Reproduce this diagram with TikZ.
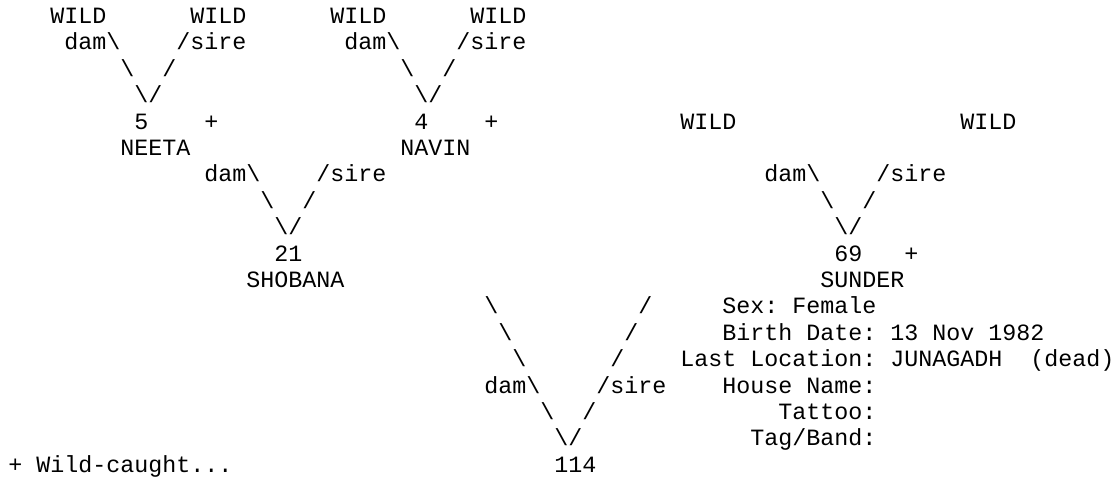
\documentclass[tikz,border=0pt]{standalone}
\usepackage{fontspec}
\newfontfamily\pedfont{Liberation Mono}
\usepackage{tikz}
\newcommand{\bsl}{\textbackslash}

\begin{document}
\begin{tikzpicture}[
    x=10.5pt, y=-19.8pt,
    txt/.style={anchor=base west, inner sep=0pt, font=\pedfont\fontsize{17.5pt}{19.8pt}\selectfont\frenchspacing}
]
\useasboundingbox (-0.571,-0.890) rectangle (79.071,17.216);

% grandparents of 21
\node[txt] (wildA) at (3,0) {WILD};
\node[txt] (wildB) at (13,0) {WILD};
\node[txt] (wildC) at (23,0) {WILD};
\node[txt] (wildD) at (33,0) {WILD};
\node[txt] (damA) at (4,1) {dam\bsl};
\node[txt] (sireA) at (12,1) {/sire};
\node[txt] (damB) at (24,1) {dam\bsl};
\node[txt] (sireB) at (32,1) {/sire};
\node[txt] (lnA1) at (8,2) {\bsl};
\node[txt] (lnA2) at (11,2) {/};
\node[txt] (lnB1) at (28,2) {\bsl};
\node[txt] (lnB2) at (31,2) {/};
\node[txt] (vA) at (9,3) {\bsl/};
\node[txt] (vB) at (29,3) {\bsl/};

% parents
\node[txt] (id5) at (9,4) {5};
\node[txt] (plusA) at (14,4) {+};
\node[txt] (id4) at (29,4) {4};
\node[txt] (plusB) at (34,4) {+};
\node[txt] (wildE) at (48,4) {WILD};
\node[txt] (wildF) at (68,4) {WILD};
\node[txt] (neeta) at (8,5) {NEETA};
\node[txt] (navin) at (28,5) {NAVIN};
\node[txt] (damC) at (14,6) {dam\bsl};
\node[txt] (sireC) at (22,6) {/sire};
\node[txt] (damD) at (54,6) {dam\bsl};
\node[txt] (sireD) at (62,6) {/sire};
\node[txt] (lnC1) at (18,7) {\bsl};
\node[txt] (lnC2) at (21,7) {/};
\node[txt] (lnD1) at (58,7) {\bsl};
\node[txt] (lnD2) at (61,7) {/};
\node[txt] (vC) at (19,8) {\bsl/};
\node[txt] (vD) at (59,8) {\bsl/};
\node[txt] (id21) at (19,9) {21};
\node[txt] (id69) at (59,9) {69};
\node[txt] (plusC) at (64,9) {+};
\node[txt] (shobana) at (17,10) {SHOBANA};
\node[txt] (sunder) at (58,10) {SUNDER};

% studbook 114
\node[txt] (lnE1) at (34,11) {\bsl};
\node[txt] (lnE2) at (45,11) {/};
\node[txt] (lnF1) at (35,12) {\bsl};
\node[txt] (lnF2) at (44,12) {/};
\node[txt] (lnG1) at (36,13) {\bsl};
\node[txt] (lnG2) at (43,13) {/};
\node[txt] (damE) at (34,14) {dam\bsl};
\node[txt] (sireE) at (42,14) {/sire};
\node[txt] (lnH1) at (38,15) {\bsl};
\node[txt] (lnH2) at (41,15) {/};
\node[txt] (vE) at (39,16) {\bsl/};
\node[txt] (id114) at (39,17) {114};

% details
\node[txt] (sex) at (51,11) {Sex: Female};
\node[txt] (birth) at (51,12) {Birth Date: 13 Nov 1982};
\node[txt] (loc) at (48,13) {Last Location: JUNAGADH};
\node[txt] (dead) at (73,13) {(dead)};
\node[txt] (house) at (51,14) {House Name:};
\node[txt] (tattoo) at (55,15) {Tattoo:};
\node[txt] (tag) at (53,16) {Tag/Band:};
\node[txt] (note) at (0,17) {+ Wild-caught...};
\end{tikzpicture}
\end{document}
